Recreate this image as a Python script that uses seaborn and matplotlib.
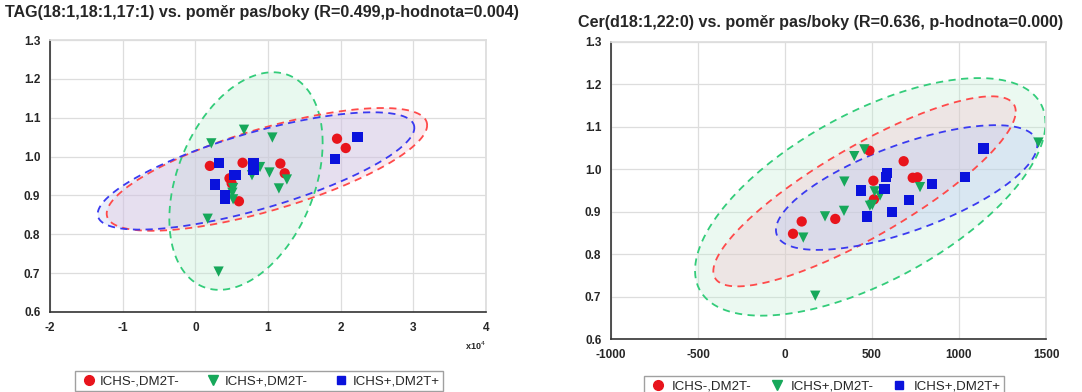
import numpy as np
import pandas as pd
import matplotlib
matplotlib.use("Agg")
import matplotlib.pyplot as plt
import seaborn as sns
from matplotlib.lines import Line2D

groups = ["ICHS-,DM2T-", "ICHS+,DM2T-", "ICHS+,DM2T+"]

# ---- Left panel: TAG(18:1,18:1,17:1) (x in units of 1e4) ----
tag_red_x = [0.20, 0.65, 0.47, 0.50, 0.60, 1.17, 1.23, 1.95, 2.07]
tag_red_y = [0.976, 0.984, 0.944, 0.931, 0.885, 0.982, 0.957, 1.046, 1.022]
tag_green_x = [0.67, 0.22, 1.06, 0.89, 0.78, 1.02, 1.26, 1.15, 0.52, 0.51, 0.52, 0.17, 0.32]
tag_green_y = [1.069, 1.034, 1.049, 0.973, 0.952, 0.959, 0.941, 0.918, 0.919, 0.907, 0.890, 0.840, 0.704]
tag_blue_x = [0.33, 0.27, 0.53, 0.56, 0.41, 0.41, 0.80, 0.80, 1.92, 2.23]
tag_blue_y = [0.984, 0.928, 0.952, 0.953, 0.900, 0.890, 0.982, 0.967, 0.993, 1.051]

# ---- Right panel: Cer(d18:1,22:0) ----
cer_red_x = [485, 682, 508, 734, 761, 511, 289, 96, 46]
cer_red_y = [1.044, 1.019, 0.973, 0.980, 0.981, 0.929, 0.883, 0.877, 0.848]
cer_green_x = [398, 456, 341, 515, 546, 488, 502, 339, 230, 105, 776, 1456, 174]
cer_green_y = [1.031, 1.047, 0.971, 0.948, 0.938, 0.914, 0.916, 0.902, 0.889, 0.839, 0.958, 1.063, 0.702]
cer_blue_x = [435, 473, 571, 580, 586, 615, 711, 845, 1034, 1140]
cer_blue_y = [0.950, 0.889, 0.954, 0.981, 0.991, 0.900, 0.928, 0.965, 0.981, 1.049]

# confidence ellipses: centre x, centre y, half-width x, half-height y, correlation
tag_ell_red = [0.985, 0.967, 2.205, 0.158, 0.72]
tag_ell_green = [0.697, 0.937, 1.055, 0.280, 0.35]
tag_ell_blue = [0.835, 0.963, 2.179, 0.151, 0.735]
cer_ell_red = [457, 0.948, 869, 0.224, 0.84]
cer_ell_green = [490, 0.935, 1007, 0.280, 0.62]
cer_ell_blue = [699, 0.957, 751, 0.147, 0.68]

left_title = "TAG(18:1,18:1,17:1) vs. poměr pas/boky (R=0.499,p-hodnota=0.004)"
right_title = "Cer(d18:1,22:0) vs. poměr pas/boky (R=0.636, p-hodnota=0.000)"
left_xticks = [-2, -1, 0, 1, 2, 3, 4]
right_xticks = [-1000, -500, 0, 500, 1000, 1500]
yticks = [0.6, 0.7, 0.8, 0.9, 1.0, 1.1, 1.2, 1.3]

colors = {groups[0]: "#e8141c", groups[1]: "#16a85a", groups[2]: "#0a12dc"}
markers = {groups[0]: "o", groups[1]: "v", groups[2]: "s"}
ell_line = {groups[0]: "#ff4a4a", groups[1]: "#33cc7a", groups[2]: "#3a3af0"}
ell_fill = {groups[0]: "#f4b8c8", groups[1]: "#bfeed3", groups[2]: "#b8c8f4"}

sns.set_theme(style="white")
plt.rcParams['font.family'] = ['Liberation Sans', 'DejaVu Sans']
plt.rcParams['axes.unicode_minus'] = False


def make_df(rx, ry, gx, gy, bx, by):
    return pd.DataFrame({
        "x": list(rx) + list(gx) + list(bx),
        "y": list(ry) + list(gy) + list(by),
        "g": [groups[0]] * len(rx) + [groups[1]] * len(gx) + [groups[2]] * len(bx),
    })


def draw_ellipse(ax, p, g, alpha):
    cx, cy, hx, hy, rho = p
    t = np.linspace(0, 2 * np.pi, 300)
    x = cx + hx * np.cos(t)
    y = cy + hy * (rho * np.cos(t) + np.sqrt(1 - rho ** 2) * np.sin(t))
    ax.fill(x, y, color=ell_fill[g], alpha=alpha, lw=0, zorder=1)
    ax.plot(x, y, color=ell_line[g], ls=(0, (4, 3)), lw=1.3, zorder=2)


def style_axes(ax, xlim, xticks):
    ax.set_xlim(xlim)
    ax.set_ylim(0.6, 1.3)
    ax.set_xticks(xticks)
    ax.set_xticklabels([str(v) for v in xticks])
    ax.set_yticks(yticks)
    ax.set_yticklabels([f"{v:.1f}" for v in yticks])
    ax.grid(True, color="#dddddd", lw=0.9)
    ax.set_axisbelow(True)
    for s in ["top", "right"]:
        ax.spines[s].set_color("#dddddd")
    for s in ["left", "bottom"]:
        ax.spines[s].set_color("#333333")
        ax.spines[s].set_linewidth(1.2)
    ax.tick_params(axis="both", labelsize=8.5, length=0, pad=7)
    for lab in ax.get_xticklabels() + ax.get_yticklabels():
        lab.set_fontweight("bold")
    ax.set_xlabel("")
    ax.set_ylabel("")


fig = plt.figure(figsize=(10.82, 3.92), dpi=100)
axL = fig.add_axes([50 / 1082, 80 / 392, 436 / 1082, 272 / 392])
axR = fig.add_axes([611 / 1082, 53 / 392, 435 / 1082, 297 / 392])

# left panel
draw_ellipse(axL, tag_ell_green, groups[1], 0.35)
draw_ellipse(axL, tag_ell_red, groups[0], 0.30)
draw_ellipse(axL, tag_ell_blue, groups[2], 0.30)
dfL = make_df(tag_red_x, tag_red_y, tag_green_x, tag_green_y, tag_blue_x, tag_blue_y)
sns.scatterplot(data=dfL, x="x", y="y", hue="g", style="g", palette=colors, markers=markers,
                s=55, edgecolor="none", ax=axL, zorder=3, legend=False)
style_axes(axL, (-2, 4), left_xticks)
axL.text(1.0, -0.1, "x10$^4$", transform=axL.transAxes, ha="right", va="top", fontsize=6.5,
         fontweight="bold")

# right panel
draw_ellipse(axR, cer_ell_green, groups[1], 0.30)
draw_ellipse(axR, cer_ell_red, groups[0], 0.30)
draw_ellipse(axR, cer_ell_blue, groups[2], 0.35)
dfR = make_df(cer_red_x, cer_red_y, cer_green_x, cer_green_y, cer_blue_x, cer_blue_y)
sns.scatterplot(data=dfR, x="x", y="y", hue="g", style="g", palette=colors, markers=markers,
                s=55, edgecolor="none", ax=axR, zorder=3, legend=False)
style_axes(axR, (-1000, 1500), right_xticks)

fig.text(5 / 1082, 1 - 12 / 392, left_title, ha="left", va="center", fontsize=11.6, fontweight="bold")
fig.text(578 / 1082, 1 - 22 / 392, right_title, ha="left", va="center", fontsize=11.6, fontweight="bold")

# legends
handles = [Line2D([], [], ls="", marker=markers[g], color=colors[g], markersize=7 if g != groups[2] else 6)
           for g in groups]
fig.legend(handles, groups, loc="center", bbox_to_anchor=(259 / 1082, 1 - 381 / 392), ncol=3,
           frameon=True, fontsize=9.5, handletextpad=0.1, columnspacing=1.8, borderpad=0.3,
           handlelength=1.5, fancybox=False, edgecolor="#888888")
fig.legend(handles, groups, loc="center", bbox_to_anchor=(824 / 1082, 1 - 386 / 392), ncol=3,
           frameon=True, fontsize=9.5, handletextpad=0.3, columnspacing=1.2, borderpad=0.3,
           handlelength=1.5, fancybox=False, edgecolor="#888888")

fig.savefig("out.png", dpi=100)
